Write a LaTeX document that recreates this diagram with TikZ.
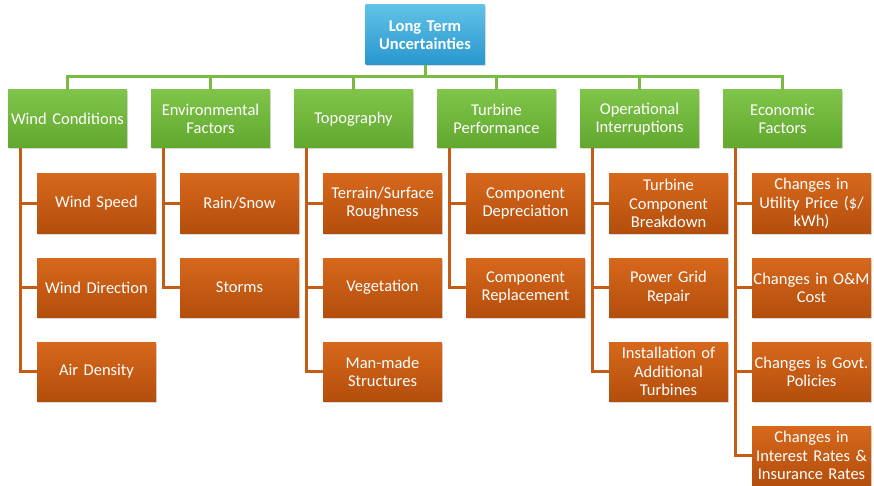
\documentclass[tikz,border=0pt]{standalone}
\usepackage{fontspec}
\setmainfont{Carlito}
\usepackage{tikz}
\usetikzlibrary{shadows}

\definecolor{rootTop}{RGB}{96,194,232}
\definecolor{rootBot}{RGB}{40,150,205}
\definecolor{grpTop}{RGB}{128,196,74}
\definecolor{grpBot}{RGB}{98,168,46}
\definecolor{subTop}{RGB}{214,104,28}
\definecolor{subBot}{RGB}{180,78,12}
\definecolor{grpLine}{RGB}{122,186,66}
\definecolor{subLine}{RGB}{196,92,22}

\tikzset{
  box/.style={rectangle,minimum width=119pt,inner sep=1pt,text width=117pt,
    align=center,text=white,font=\fontsize{16.5}{18.3}\selectfont,
    drop shadow={shadow xshift=1.2pt,shadow yshift=-1.5pt,opacity=0.3}},
  rootbox/.style={box,minimum height=60pt,top color=rootTop,bottom color=rootBot,
    font=\bfseries\fontsize{16.5}{18.3}\selectfont},
  grpbox/.style={box,minimum height=58pt,top color=grpTop,bottom color=grpBot},
  subbox/.style={box,minimum height=59pt,top color=subTop,bottom color=subBot},
  grpline/.style={draw=grpLine,line width=3pt},
  subline/.style={draw=subLine,line width=3pt}
}

\begin{document}
\begin{tikzpicture}[x=1pt,y=-1pt]
  \useasboundingbox (0,0) rectangle (874,486);

  % root
  \node[rootbox] (root) at (425,35) {Long Term\\Uncertainties};

  % groups
  \node[grpbox] (wind) at (67.5,119)  {Wind Conditions};
  \node[grpbox] (env)  at (210.5,119) {Environmental\\Factors};
  \node[grpbox] (topo) at (353.5,119) {Topography};
  \node[grpbox] (perf) at (496.5,119) {Turbine\\Performance};
  \node[grpbox] (oper) at (639.5,119) {Operational\\Interruptions};
  \node[grpbox] (econ) at (782.5,119) {Economic\\Factors};

  % items
  \node[subbox] (wspeed) at (96.5,203.5) {Wind Speed};
  \node[subbox] (wdir)   at (96.5,287.5) {Wind Direction};
  \node[subbox] (air)    at (96.5,371.5) {Air Density};

  \node[subbox] (rain)  at (239.5,203.5) {Rain/Snow};
  \node[subbox] (storm) at (239.5,287.5) {Storms};

  \node[subbox] (terrain) at (382.5,203.5) {Terrain/Surface\\Roughness};
  \node[subbox] (veg)     at (382.5,287.5) {Vegetation};
  \node[subbox] (manmade) at (382.5,371.5) {Man-made\\Structures};

  \node[subbox] (depr) at (525.5,203.5) {Component\\Depreciation};
  \node[subbox] (repl) at (525.5,287.5) {Component\\Replacement};

  \node[subbox] (breakdown) at (668.5,203.5) {Turbine\\Component\\Breakdown};
  \node[subbox] (grid)      at (668.5,287.5) {Power Grid\\Repair};
  \node[subbox] (install)   at (668.5,371.5) {Installation of\\Additional\\Turbines};

  \node[subbox] (price)    at (811.5,203.5) {Changes in\\Utility Price (\$/\\kWh)};
  \node[subbox] (om)       at (811.5,287.5) {Changes in O\&M\\Cost};
  \node[subbox] (govt)     at (811.5,371.5) {Changes is Govt.\\Policies};
  \node[subbox] (interest) at (811.5,455.5) {Changes in\\Interest Rates \&\\Insurance Rates};

  % root to groups
  \draw[grpline] (root.south) -- ++(0,11) -| (wind.north);
  \draw[grpline] (root.south) -- ++(0,11) -| (env.north);
  \draw[grpline] (root.south) -- ++(0,11) -| (topo.north);
  \draw[grpline] (root.south) -- ++(0,11) -| (perf.north);
  \draw[grpline] (root.south) -- ++(0,11) -| (oper.north);
  \draw[grpline] (root.south) -- ++(0,11) -| (econ.north);

  % groups to items
  \draw[subline] ([xshift=-47.5pt]wind.south) |- (wspeed.west);
  \draw[subline] ([xshift=-47.5pt]wind.south) |- (wdir.west);
  \draw[subline] ([xshift=-47.5pt]wind.south) |- (air.west);

  \draw[subline] ([xshift=-47.5pt]env.south) |- (rain.west);
  \draw[subline] ([xshift=-47.5pt]env.south) |- (storm.west);

  \draw[subline] ([xshift=-47.5pt]topo.south) |- (terrain.west);
  \draw[subline] ([xshift=-47.5pt]topo.south) |- (veg.west);
  \draw[subline] ([xshift=-47.5pt]topo.south) |- (manmade.west);

  \draw[subline] ([xshift=-47.5pt]perf.south) |- (depr.west);
  \draw[subline] ([xshift=-47.5pt]perf.south) |- (repl.west);

  \draw[subline] ([xshift=-47.5pt]oper.south) |- (breakdown.west);
  \draw[subline] ([xshift=-47.5pt]oper.south) |- (grid.west);
  \draw[subline] ([xshift=-47.5pt]oper.south) |- (install.west);

  \draw[subline] ([xshift=-47.5pt]econ.south) |- (price.west);
  \draw[subline] ([xshift=-47.5pt]econ.south) |- (om.west);
  \draw[subline] ([xshift=-47.5pt]econ.south) |- (govt.west);
  \draw[subline] ([xshift=-47.5pt]econ.south) |- (interest.west);
\end{tikzpicture}
\end{document}
